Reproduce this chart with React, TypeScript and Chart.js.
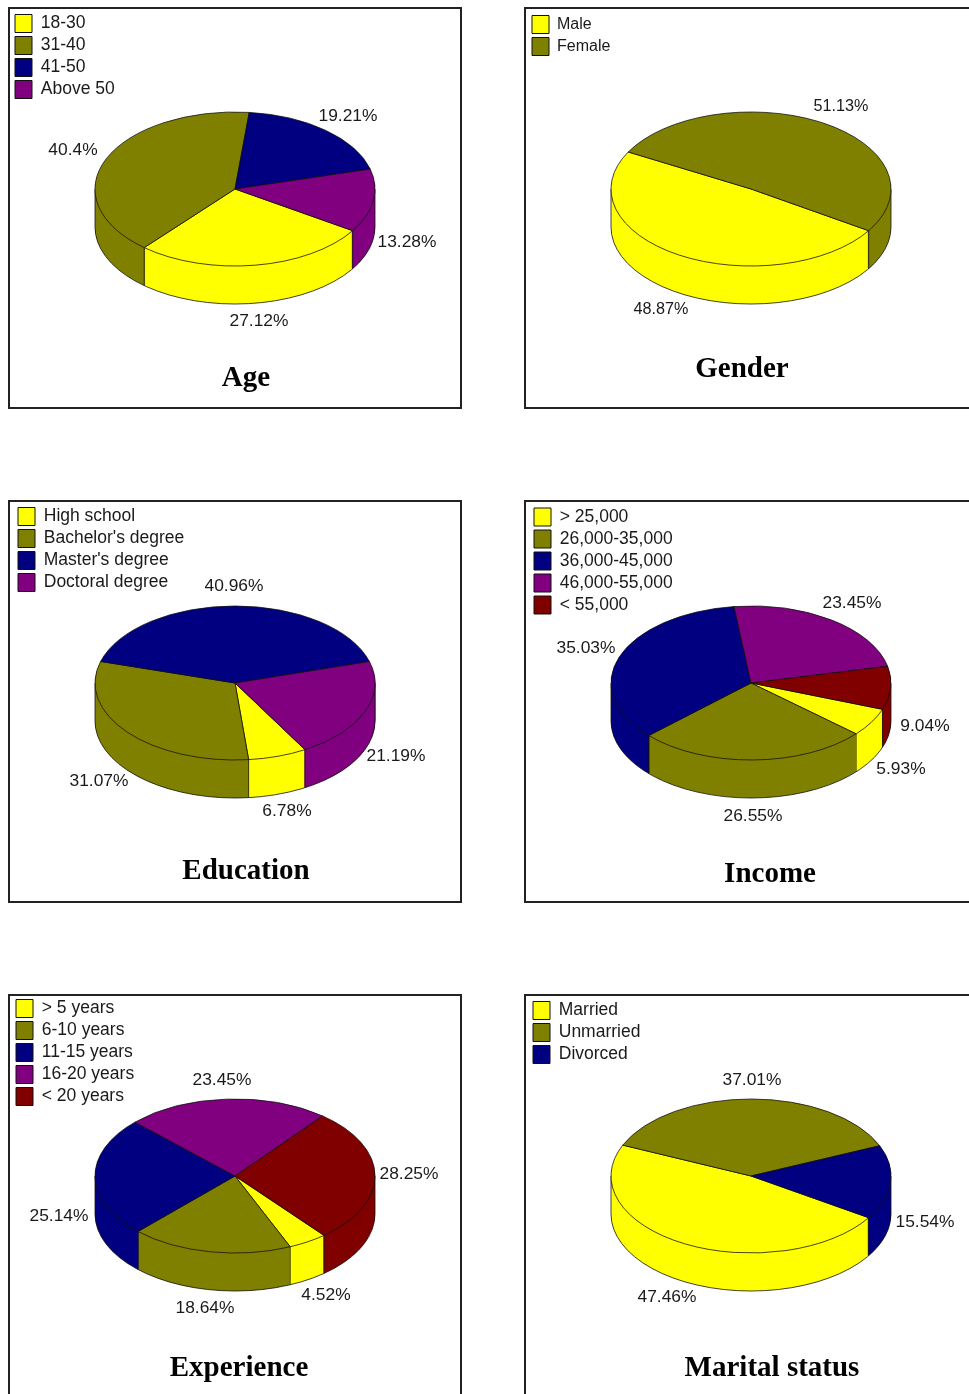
import React, { useEffect, useRef } from "react";
import { Chart, registerables } from "chart.js";

Chart.register(...registerables);

// ---- data ----
const ageLabels = ["18-30", "31-40", "41-50", "Above 50"];
const ageValues = [27.12, 40.4, 19.21, 13.28];
const genderLabels = ["Male", "Female"];
const genderValues = [48.87, 51.13];
const educationLabels = ["High school", "Bachelor's degree", "Master's degree", "Doctoral degree"];
const educationValues = [6.78, 31.07, 40.96, 21.19];
const incomeLabels = ["> 25,000", "26,000-35,000", "36,000-45,000", "46,000-55,000", "< 55,000"];
const incomeValues = [5.93, 26.55, 35.03, 23.45, 9.04];
const experienceLabels = ["> 5 years", "6-10 years", "11-15 years", "16-20 years", "< 20 years"];
const experienceValues = [4.52, 18.64, 25.14, 23.45, 28.25];
const maritalLabels = ["Married", "Unmarried", "Divorced"];
const maritalValues = [47.46, 37.01, 15.54];
const sliceColors = ["#FFFF00", "#808000", "#000080", "#800080", "#800000"];

// ---- layout (page pixels) ----
const PANEL_W = 452;
const PANEL_H = 401;
const FRAME_W = 454;
const RADIUS = 140;
const TILT = 0.55;
const DEPTH = 38;
const panels = [
  { title: "Age", labels: ageLabels, values: ageValues, x: 9, y: 8, fh: 402, cx: 235, cy: 189, rot: 122.8, lx: 15, ly: 14.5, font: 17.5, vfont: 17.4,
    tx: 246, ty: 379, pos: [[259, 321.5], [73, 150.5], [348, 116.5], [407, 242.5]] },
  { title: "Gender", labels: genderLabels, values: genderValues, x: 525, y: 8, fh: 402, cx: 751, cy: 189, rot: 122.8, lx: 532, ly: 15.5, font: 16, vfont: 16.2,
    tx: 742, ty: 370, pos: [[661, 309.5], [841, 106.5]] },
  { title: "Education", labels: educationLabels, values: educationValues, x: 9, y: 501, fh: 403, cx: 235, cy: 683, rot: 150, lx: 18, ly: 507.5, font: 17.5, vfont: 17.4,
    tx: 246, ty: 872, pos: [[287, 811.5], [99, 781.5], [234, 586.5], [396, 756.5]] },
  { title: "Income", labels: incomeLabels, values: incomeValues, x: 525, y: 501, fh: 403, cx: 751, cy: 683, rot: 110, lx: 534, ly: 508, font: 17.5, vfont: 17.4,
    tx: 770, ty: 875, pos: [[901, 769.5], [753, 816.5], [586, 648.5], [852, 603.5], [925, 726.5]] },
  { title: "Experience", labels: experienceLabels, values: experienceValues, x: 9, y: 995, fh: 403, cx: 235, cy: 1176, rot: 140.5, lx: 16, ly: 999.5, font: 17.5, vfont: 17.4,
    tx: 239, ty: 1369, pos: [[326, 1295.5], [205, 1308.5], [59, 1216.5], [222, 1080.5], [409, 1174.5]] },
  { title: "Marital status", labels: maritalLabels, values: maritalValues, x: 525, y: 995, fh: 403, cx: 751, cy: 1176, rot: 122.8, lx: 533, ly: 1001.5, font: 17.5, vfont: 17.4,
    tx: 772, ty: 1369, pos: [[667, 1297.5], [752, 1080.5], [925, 1222.5]] },
];

type Panel = (typeof panels)[number];

function PieChart({ p }: { p: Panel }) {
  const ref = useRef<HTMLCanvasElement | null>(null);

  useEffect(() => {
    if (!ref.current) return;
    const LEGEND_PAD = 4;
    const pie3d = {
      id: "pie3d",
      afterLayout(chart: any) {
        const l = chart.legend;
        const w = l.width;
        l.left = p.lx - p.x - LEGEND_PAD;
        l.top = p.ly - p.y - LEGEND_PAD;
        l.right = l.left + Math.max(w, 260);
        l.bottom = l.top + 180;
      },
      beforeDatasetsDraw(chart: any) {
        const ctx = chart.ctx;
        const arcs = chart.getDatasetMeta(0).data;
        const { x: cx, y: cy, outerRadius: r } = arcs[0];
        const k = TILT;
        for (let dy = DEPTH; dy >= 1; dy--) {
          ctx.save();
          ctx.translate(cx, cy + dy);
          ctx.scale(1, k);
          ctx.translate(-cx, -cy);
          arcs.forEach((a: any) => {
            const o = a.options;
            a.options = Object.assign({}, o, { borderWidth: 0 });
            a.draw(ctx);
            a.options = o;
          });
          ctx.restore();
        }
        ctx.save();
        ctx.strokeStyle = "#111";
        ctx.lineWidth = 0.8;
        ctx.beginPath();
        ctx.ellipse(cx, cy + DEPTH, r, r * k, 0, 0, Math.PI);
        ctx.stroke();
        ctx.beginPath();
        ctx.moveTo(cx - r, cy);
        ctx.lineTo(cx - r, cy + DEPTH);
        ctx.moveTo(cx + r, cy);
        ctx.lineTo(cx + r, cy + DEPTH);
        arcs.forEach((a: any) => {
          const s = Math.sin(a.startAngle);
          if (s > 0) {
            const px = cx + r * Math.cos(a.startAngle);
            const py = cy + r * k * s;
            ctx.moveTo(px, py);
            ctx.lineTo(px, py + DEPTH);
          }
        });
        ctx.stroke();
        ctx.restore();
        ctx.save();
        ctx.translate(cx, cy);
        ctx.scale(1, k);
        ctx.translate(-cx, -cy);
      },
      afterDatasetsDraw(chart: any) {
        const ctx = chart.ctx;
        ctx.restore();
        ctx.save();
        ctx.textAlign = "center";
        ctx.textBaseline = "middle";
        ctx.fillStyle = "#1a1a1a";
        ctx.font = `${p.vfont}px "Liberation Sans"`;
        p.values.forEach((v, i) => {
          ctx.fillText(`${v}%`, p.pos[i][0] - p.x, p.pos[i][1] - p.y);
        });
        ctx.fillStyle = "#000";
        ctx.font = 'bold 29px "Liberation Serif"';
        ctx.fillText(p.title, p.tx - p.x, p.ty - p.y);
        ctx.restore();
      },
    };

    const bw = 1;
    const cxLocal = p.cx - p.x;
    const cyLocal = p.cy - p.y;
    const half = RADIUS + bw / 2;
    const chart = new Chart(ref.current, {
      type: "doughnut",
      data: {
        labels: p.labels,
        datasets: [
          {
            data: p.values,
            backgroundColor: sliceColors.slice(0, p.values.length),
            borderColor: "#111",
            borderWidth: bw,
            clip: false,
          } as any,
        ],
      },
      options: {
        responsive: false,
        animation: false,
        devicePixelRatio: 1,
        cutout: 0,
        rotation: p.rot,
        events: [],
        layout: {
          padding: {
            left: cxLocal - half,
            right: PANEL_W - cxLocal - half,
            top: cyLocal - half,
            bottom: PANEL_H - cyLocal - half,
          },
        },
        plugins: {
          tooltip: { enabled: false },
          title: { display: false },
          legend: {
            display: true,
            position: "chartArea",
            align: "start",
            labels: {
              boxWidth: 17,
              boxHeight: 18,
              padding: LEGEND_PAD,
              color: "#1a1a1a",
              font: { family: "Liberation Sans", size: p.font, lineHeight: 1 },
            },
          },
        },
      } as any,
      plugins: [pie3d as any],
    });
    return () => chart.destroy();
  }, [p]);

  return (
    <div
      style={{
        position: "absolute",
        left: p.x - 1,
        top: p.y - 1,
        width: FRAME_W,
        height: p.fh,
        boxSizing: "border-box",
        border: "2px solid #222",
        background: "#fff",
      }}
    >
      <canvas
        ref={ref}
        width={PANEL_W}
        height={PANEL_H}
        style={{ position: "absolute", left: -1, top: -1, width: PANEL_W, height: PANEL_H }}
      />
    </div>
  );
}

export default function App() {
  return (
    <div
      style={{
        position: "absolute",
        left: 0,
        top: 0,
        width: 969,
        height: 1394,
        overflow: "hidden",
        background: "#fff",
      }}
    >
      {panels.map((p) => (
        <PieChart key={p.title} p={p} />
      ))}
    </div>
  );
}
